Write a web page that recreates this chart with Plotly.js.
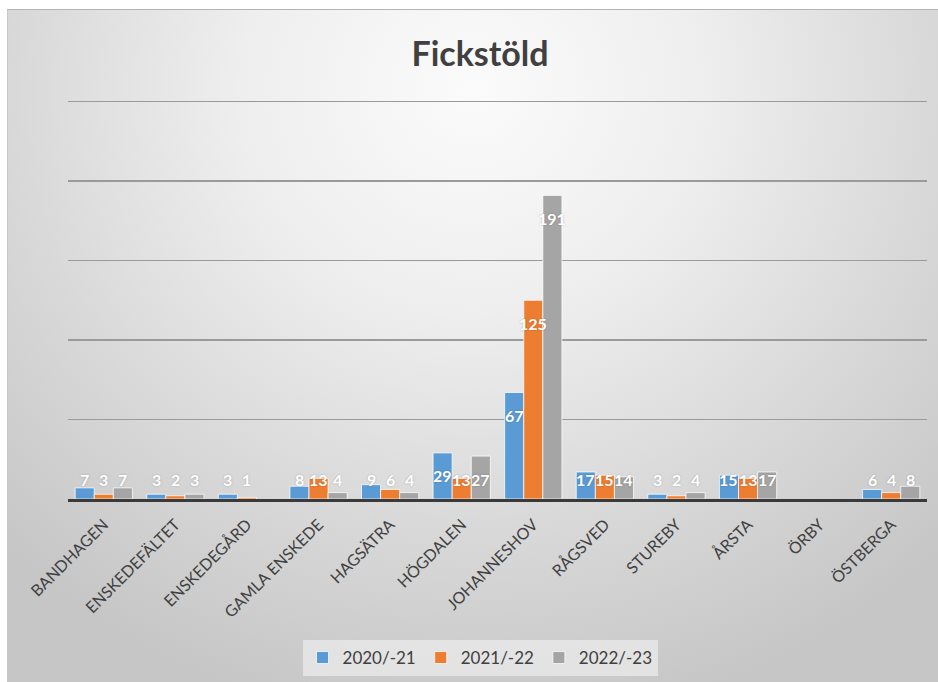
<!DOCTYPE html>
<html>
<head>
<meta charset="utf-8">
<script src="https://cdn.plot.ly/plotly-3.0.1.min.js"></script>
<style>
  html, body { margin: 0; padding: 0; width: 938px; height: 682px; overflow: hidden; background: #ffffff; }
  #frame {
    position: absolute; left: 7px; top: 9px; width: 931px; height: 673px;
    border-top: 1px solid #b4b4b4; border-left: 1px solid #c8c8c8; box-sizing: border-box;
    background: radial-gradient(ellipse 72% 95% at 50% 12%, #fbfbfb 0%, #eeeeee 35%, #d9d9d9 68%, #c6c6c6 100%);
  }
  #chart { position: absolute; left: 0; top: 0; width: 931px; height: 673px; }
</style>
</head>
<body>
<div id="frame"><div id="chart"></div></div>
<script>
// ---- data ----
const categories = ["BANDHAGEN", "ENSKEDEFÄLTET", "ENSKEDEGÅRD", "GAMLA ENSKEDE", "HAGSÄTRA", "HÖGDALEN", "JOHANNESHOV", "RÅGSVED", "STUREBY", "ÅRSTA", "ÖRBY", "ÖSTBERGA"];
const seriesNames = ["2020/-21", "2021/-22", "2022/-23"];
const values2020 = [7, 3, 3, 8, 9, 29, 67, 17, 3, 15, null, 6];
const values2021 = [3, 2, 1, 13, 6, 13, 125, 15, 2, 13, null, 4];
const values2022 = [7, 3, null, 4, 4, 27, 191, 14, 4, 17, null, 8];
const title = "Fickstöld";

// ---- styling ----
const colors = ["#5B9BD5", "#ED7D31", "#A5A5A5"];
const allValues = [values2020, values2021, values2022];
const W = 931, H = 673;
const margin = { l: 60, r: 12, t: 90, b: 184 };
const bargap = 0.2;
const plotW = W - margin.l - margin.r;
const barPx = plotW / categories.length * (1 - bargap) / 3;
const plotH = H - margin.t - margin.b;
const yTop = 251;
const pxPerUnit = plotH / yTop;

const traces = allValues.map((vals, s) => ({
  type: "bar",
  name: seriesNames[s],
  x: categories,
  y: vals,
  marker: { color: colors[s], line: { color: "rgba(255,255,255,0.75)", width: 1 } },
  hoverinfo: "x+y+name"
}));

const annotations = [];
allValues.forEach((vals, s) => {
  vals.forEach((v, i) => {
    if (v === null || v === undefined) return;
    const inside = v * pxPerUnit > 43;
    annotations.push({
      x: categories[i], y: inside ? v : 0,
      xref: "x", yref: "y",
      xshift: (s - 1) * barPx,
      yshift: inside ? -23 : 20,
      yanchor: "middle", xanchor: "center",
      text: String(v), showarrow: false,
      font: { family: "Lato, 'Open Sans', sans-serif", size: 16, color: "#ffffff", weight: "bold", shadow: "0px 0px 2px rgba(0,0,0,0.25)" }
    });
  });
});

const layout = {
  width: W, height: H,
  margin: margin,
  paper_bgcolor: "rgba(0,0,0,0)",
  plot_bgcolor: "rgba(0,0,0,0)",
  barmode: "group",
  bargap: bargap,
  bargroupgap: 0,
  title: {
    text: title,
    font: { family: "Lato, 'Open Sans', sans-serif", size: 34, color: "#404040", weight: "bold" },
    x: 0.507, xanchor: "center", xref: "container",
    y: 1 - 44 / H, yanchor: "middle", yref: "container"
  },
  xaxis: {
    type: "category",
    tickangle: -45,
    tickfont: { family: "Lato, 'Open Sans', sans-serif", size: 16, color: "#404040" },
    ticklabelstandoff: 7,
    showline: true, linecolor: "#3a3a3a", linewidth: 3,
    ticks: "", showgrid: false, zeroline: false,
    fixedrange: true
  },
  yaxis: {
    range: [0, yTop], tickvals: [50, 100, 150, 200, 250],
    showticklabels: false,
    showgrid: true, gridcolor: "#9a9a9a", gridwidth: 1.5,
    zeroline: false, showline: false, ticks: "",
    fixedrange: true
  },
  showlegend: true,
  legend: {
    orientation: "h",
    x: 0.507, xanchor: "center", xref: "container",
    y: 1 - 648 / H, yanchor: "middle", yref: "container",
    bgcolor: "rgba(235,235,235,0.75)",
    font: { family: "Lato, 'Open Sans', sans-serif", size: 17, color: "#404040" },
    itemwidth: 30,
    tracegroupgap: 0
  },
  annotations: annotations
};

Plotly.newPlot("chart", traces, layout, { displayModeBar: false, staticPlot: true });
</script>
</body>
</html>
